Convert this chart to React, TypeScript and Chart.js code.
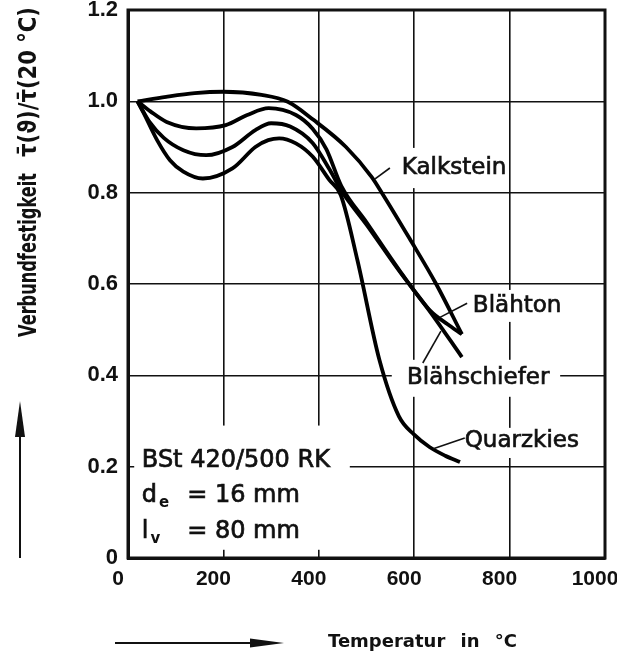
import React, { useEffect, useRef } from "react";
import { Chart, registerables } from "chart.js";

Chart.register(...registerables);

// ---------- data ----------
const xTickValues = [0, 200, 400, 600, 800, 1000];
const yTickValues = [0, 0.2, 0.4, 0.6, 0.8, 1.0, 1.2];

const seriesNames = ["Kalkstein", "Blähton", "Blähschiefer", "Quarzkies"];

const kalksteinT = [20, 80, 140, 200, 280, 335, 388, 457, 511, 532, 590, 646, 700];
const kalksteinV = [1.0, 1.01, 1.018, 1.021, 1.014, 0.999, 0.96, 0.9, 0.834, 0.8, 0.7, 0.6, 0.49];

const blaehtonT = [20, 47, 81, 143, 205, 250, 295, 352, 387, 416, 447, 500, 569, 635, 670, 700];
const blaehtonV = [1.0, 0.978, 0.955, 0.941, 0.948, 0.97, 0.985, 0.97, 0.94, 0.895, 0.815, 0.735, 0.63, 0.54, 0.512, 0.49];

const blaehschieferT = [20, 45, 75, 116, 164, 219, 267, 300, 340, 387, 423, 447, 500, 569, 635, 700];
const blaehschieferV = [1.0, 0.955, 0.92, 0.893, 0.882, 0.9, 0.937, 0.952, 0.945, 0.909, 0.85, 0.805, 0.73, 0.628, 0.537, 0.44];

const quarzkiesT = [20, 33, 61, 88, 116, 157, 219, 267, 294, 317, 352, 387, 422, 446, 481, 527, 568, 600, 632, 665, 696];
const quarzkiesV = [1.0, 0.974, 0.915, 0.871, 0.846, 0.831, 0.853, 0.9, 0.915, 0.919, 0.908, 0.879, 0.828, 0.795, 0.652, 0.434, 0.31, 0.27, 0.243, 0.224, 0.21];

const seriesT = [kalksteinT, blaehtonT, blaehschieferT, quarzkiesT];
const seriesV = [kalksteinV, blaehtonV, blaehschieferV, quarzkiesV];

const xTitle = "Temperatur in °C";
const yTitleMain = "Verbundfestigkeit";
const yTitleRatio = "τ̄(ϑ)/τ̄(20 °C)";
const infoLine1 = "BSt 420/500 RK";
const infoLines = [
  { main: "d", sub: "e", value: "= 16 mm" },
  { main: "l", sub: "v", value: "= 80 mm" },
];

// ---------- annotation layout (data units) ----------
const labelPos = [
  { t: 574, v: 0.854, lt0: 549, lv0: 0.854, lt1: 518, lv1: 0.83 },
  { t: 723, v: 0.552, lt0: 711, lv0: 0.558, lt1: 654, lv1: 0.527 },
  { t: 585, v: 0.394, lt0: 618, lv0: 0.427, lt1: 656, lv1: 0.497 },
  { t: 706, v: 0.256, lt0: 706, lv0: 0.263, lt1: 640, lv1: 0.239 },
];
const clearBoxes = [
  { t0: 13, t1: 465, v0: 0.018, v1: 0.29 },
  { t0: 560, t1: 790, v0: 0.81, v1: 0.898 },
  { t0: 713, t1: 910, v0: 0.517, v1: 0.587 },
  { t0: 553, t1: 906, v0: 0.353, v1: 0.434 },
  { t0: 696, t1: 958, v0: 0.219, v1: 0.285 },
];

const INK = "#111";
const FONT = '"DejaVu Sans", "Liberation Sans", sans-serif';
const TICK_FONT = '"Liberation Sans", Arial, sans-serif';

function heavyText(ctx: CanvasRenderingContext2D, s: string, px: number, py: number, w = 0.7) {
  ctx.fillText(s, px, py);
  ctx.lineWidth = w;
  ctx.strokeText(s, px, py);
}

const decorPlugin = {
  id: "decor",
  beforeDatasetsDraw(chart: any) {
    const { ctx, scales } = chart;
    const x = scales.x;
    const y = scales.y;
    ctx.save();
    ctx.fillStyle = "#fff";
    for (const b of clearBoxes) {
      const x1 = x.getPixelForValue(b.t0);
      const x2 = x.getPixelForValue(b.t1);
      const y1 = y.getPixelForValue(b.v1);
      const y2 = y.getPixelForValue(b.v0);
      ctx.fillRect(x1, y1, x2 - x1, y2 - y1);
    }
    ctx.restore();
  },
  afterDatasetsDraw(chart: any) {
    const { ctx, chartArea: a, scales } = chart;
    const x = scales.x;
    const y = scales.y;
    ctx.save();
    // frame
    ctx.strokeStyle = INK;
    ctx.lineWidth = 3;
    ctx.strokeRect(a.left, a.top, a.right - a.left, a.bottom - a.top);

    // curve labels + leaders
    ctx.fillStyle = INK;
    ctx.font = `23px ${FONT}`;
    ctx.textBaseline = "middle";
    ctx.textAlign = "left";
    seriesNames.forEach((name, i) => {
      const p = labelPos[i];
      heavyText(ctx, name, x.getPixelForValue(p.t), y.getPixelForValue(p.v));
      ctx.lineWidth = 1.6;
      ctx.beginPath();
      ctx.moveTo(x.getPixelForValue(p.lt0), y.getPixelForValue(p.lv0));
      ctx.lineTo(x.getPixelForValue(p.lt1), y.getPixelForValue(p.lv1));
      ctx.stroke();
    });

    // info block
    ctx.textBaseline = "alphabetic";
    ctx.font = `24px ${FONT}`;
    const bx = x.getPixelForValue(29);
    heavyText(ctx, infoLine1, bx, y.getPixelForValue(0.199));
    const eqx = x.getPixelForValue(124);
    const rows = [0.123, 0.044];
    infoLines.forEach((row, i) => {
      const by = y.getPixelForValue(rows[i]);
      ctx.font = `24px ${FONT}`;
      heavyText(ctx, row.main, bx, by);
      const mw = ctx.measureText(row.main).width;
      ctx.font = `bold 15px ${FONT}`;
      ctx.fillText(row.sub, bx + mw + 2, by + 5);
      ctx.font = `24px ${FONT}`;
      heavyText(ctx, row.value, eqx, by);
    });
    ctx.restore();
  },
  afterDraw(chart: any) {
    const { ctx } = chart;
    ctx.save();
    ctx.fillStyle = INK;
    ctx.strokeStyle = INK;

    // x title
    ctx.font = `bold 18px ${FONT}`;
    ctx.textBaseline = "alphabetic";
    ctx.textAlign = "left";
    try { (ctx as any).wordSpacing = "9px"; } catch (e) {}
    ctx.fillText(xTitle, 328, 647);
    try { (ctx as any).wordSpacing = "0px"; } catch (e) {}

    // x arrow
    ctx.lineWidth = 2;
    ctx.beginPath();
    ctx.moveTo(115, 643);
    ctx.lineTo(256, 643);
    ctx.stroke();
    ctx.beginPath();
    ctx.moveTo(284, 643);
    ctx.lineTo(250, 638.5);
    ctx.lineTo(250, 647.5);
    ctx.closePath();
    ctx.fill();

    // y arrow
    ctx.beginPath();
    ctx.moveTo(20, 558);
    ctx.lineTo(20, 430);
    ctx.stroke();
    ctx.beginPath();
    ctx.moveTo(20, 401);
    ctx.lineTo(15, 437);
    ctx.lineTo(25, 437);
    ctx.closePath();
    ctx.fill();

    // y title (rotated, two parts)
    ctx.translate(36, 337);
    ctx.rotate(-Math.PI / 2);
    ctx.font = `bold 20px ${FONT}`;
    const w1 = ctx.measureText(yTitleMain).width;
    ctx.save();
    ctx.scale(164 / w1, 1.25);
    ctx.fillText(yTitleMain, 0, 0);
    ctx.restore();
    const w2 = ctx.measureText(yTitleRatio).width;
    ctx.save();
    ctx.translate(180, 0);
    ctx.scale(150 / w2, 1.25);
    ctx.fillText(yTitleRatio, 0, 0);
    ctx.restore();
    ctx.restore();
  },
};

export default function App() {
  const canvasRef = useRef<HTMLCanvasElement | null>(null);

  useEffect(() => {
    const canvas = canvasRef.current;
    if (!canvas) return;
    const chart = new Chart(canvas, {
      type: "line",
      data: {
        datasets: seriesNames.map((name, i) => ({
          label: name,
          data: seriesT[i].map((t, j) => ({ x: t, y: seriesV[i][j] })),
          borderColor: "#000",
          borderWidth: 3.8,
          pointRadius: 0,
          fill: false,
          cubicInterpolationMode: "monotone" as const,
        })),
      },
      options: {
        responsive: false,
        animation: false,
        devicePixelRatio: 1,
        layout: { padding: { left: 0, top: 10, right: 12, bottom: 0 } },
        plugins: {
          legend: { display: false },
          tooltip: { enabled: false },
          title: { display: false },
        },
        scales: {
          x: {
            type: "linear",
            min: 0,
            max: 1000,
            afterBuildTicks: (s: any) => {
              s.ticks = xTickValues.map((v) => ({ value: v }));
            },
            afterFit: (s: any) => {
              s.height = 99;
              s.paddingLeft = 0;
              s.paddingRight = 0;
            },
            ticks: {
              font: { family: TICK_FONT, size: 21, weight: "bold" as const },
              color: INK,
              padding: 9,
              labelOffset: -10,
              maxRotation: 0,
              autoSkip: false,
              callback: (v: any) => String(v),
            },
            grid: { color: INK, lineWidth: 1.6, drawTicks: false },
            border: { color: INK, width: 3 },
          },
          y: {
            type: "linear",
            min: 0,
            max: 1.2,
            afterBuildTicks: (s: any) => {
              s.ticks = yTickValues.map((v) => ({ value: v }));
            },
            afterFit: (s: any) => {
              s.width = 128;
              s.paddingTop = 0;
              s.paddingBottom = 0;
            },
            ticks: {
              font: { family: TICK_FONT, size: 22, weight: "bold" as const },
              color: INK,
              padding: 10,
              autoSkip: false,
              callback: (v: any) => (Number(v) === 0 ? "0" : Number(v).toFixed(1)),
            },
            grid: { color: INK, lineWidth: 1.6, drawTicks: false },
            border: { color: INK, width: 3 },
          },
        },
      },
      plugins: [decorPlugin],
    });
    return () => chart.destroy();
  }, []);

  return (
    <div style={{ position: "absolute", left: 0, top: 0, width: 617, height: 657, background: "#fff" }}>
      <canvas ref={canvasRef} width={617} height={657} style={{ display: "block" }} />
    </div>
  );
}
